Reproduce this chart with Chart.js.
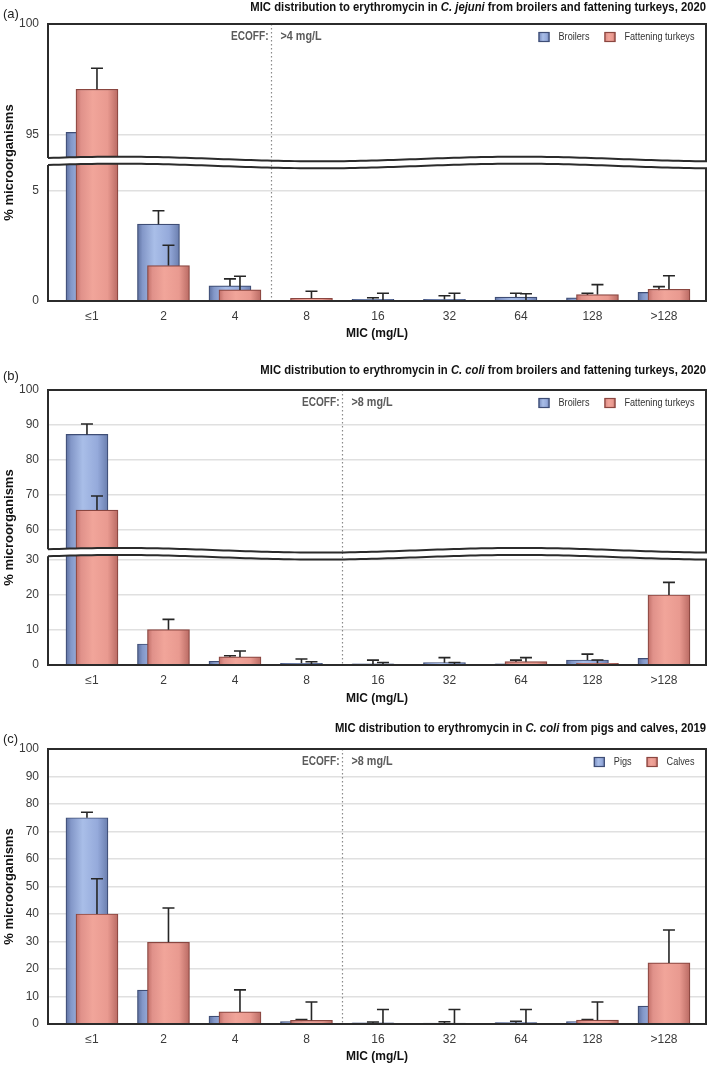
<!DOCTYPE html>
<html><head><meta charset="utf-8">
<script src="https://cdn.jsdelivr.net/npm/chart.js@4.4.0/dist/chart.umd.min.js"></script>
<style>
html,body{margin:0;padding:0;background:#fff;}
#wrap{position:relative;width:709px;height:1065px;overflow:hidden;}
canvas{position:absolute;left:0;}
</style></head><body>
<div id="wrap">
<canvas id="ca" style="top:0px" width="709" height="345"></canvas>
<canvas id="cb" style="top:345px" width="709" height="363"></canvas>
<canvas id="cc" style="top:708px" width="709" height="357"></canvas>
</div>
<script>
// ---------- data ----------
const micLabels = ['≤1','2','4','8','16','32','64','128','>128'];

// (a) C. jejuni, broilers & fattening turkeys 2020
const aTitle = ['MIC distribution to erythromycin in ', 'C. jejuni', ' from broilers and fattening turkeys, 2020'];
const aSeries = ['Broilers', 'Fattening turkeys'];
const aBroilers   = [95.1, 3.47, 0.68, 0,    0.07, 0.07, 0.18, 0.14, 0.39];
const aBroilersHi = [96.0, 4.08, 1.0,  null, 0.15, 0.24, 0.35, 0.35, 0.65];
const aTurkeys    = [97.05, 1.6, 0.5,  0.12, 0.03, 0.02, 0.02, 0.29, 0.53];
const aTurkeysHi  = [98.0, 2.52, 1.12, 0.44, 0.35, 0.35, 0.33, 0.74, 1.14];
const aTicks = [0, 5, 95, 100];
const aEcoff = 'ECOFF:', aEcoffVal = '>4 mg/L';

// (b) C. coli, broilers & fattening turkeys 2020
const bTitle = ['MIC distribution to erythromycin in ', 'C. coli', ' from broilers and fattening turkeys, 2020'];
const bSeries = ['Broilers', 'Fattening turkeys'];
const bBroilers   = [87.3, 6.0, 1.05, 0.48, 0.3, 0.67, 0.37, 1.43, 1.9];
const bBroilersHi = [90.3, 7.5, 2.65, 1.7,  1.4, 2.1,  1.4,  3.1,  3.5];
const bTurkeys    = [65.7, 10.1, 2.3, 0.2,  0.2, 0.1,  0.95, 0.48, 20.0];
const bTurkeysHi  = [69.7, 13.05, 4.0, 0.95, 0.7, 0.7, 2.1,  1.43, 23.6];
const bTicks = [0, 5, 10, 15, 20, 25, 30, 55, 60, 65, 70, 75, 80, 85, 90, 95, 100];
const bEcoff = 'ECOFF:', bEcoffVal = '>8 mg/L';

// (c) C. coli, pigs & calves 2019
const cTitle = ['MIC distribution to erythromycin in ', 'C. coli', ' from pigs and calves, 2019'];
const cSeries = ['Pigs', 'Calves'];
const cPigs     = [75.0, 12.3, 2.9, 0.85, 0.4,  0.3, 0.5, 0.9, 6.5];
const cPigsHi   = [77.0, 14.0, 3.8, 1.6,  0.75, 0.8, 1.0, 1.6, 8.0];
const cCalves   = [40.0, 29.7, 4.4, 1.35, 0,    0,   0,   1.4, 22.2];
const cCalvesHi = [52.8, 42.2, 12.4, 8.0, 5.3,  5.3, 5.3, 8.0, 34.2];
const cTicks = [0, 10, 20, 30, 40, 50, 60, 70, 80, 90, 100];
const cEcoff = 'ECOFF:', cEcoffVal = '>8 mg/L';

const yTitle = '% microorganisms';
const xTitle = 'MIC (mg/L)';

// ---------- styling ----------
const FN = '"Liberation Sans Narrow", "Arial Narrow", "Liberation Sans", Arial, sans-serif';
const FW = '"Liberation Sans", Arial, sans-serif';
const BLUE = {stops: [[0,'#5d70a0'],[0.12,'#8397c8'],[0.4,'#a9bee8'],[0.75,'#95aadb'],[1,'#6a7eae']], border: '#3e4d75', flat: '#9fb3e0'};
const RED  = {stops: [[0,'#c06f68'],[0.12,'#e0918a'],[0.4,'#f1a59a'],[0.75,'#e99a90'],[1,'#b96a63']], border: '#8a4640', flat: '#eb9c92'};
const BAR_OFF = 0.07;

// ---------- broken y scale ----------
class BrokenScale extends Chart.LinearScale {
  _brk() { const o = this.options; return {lo: o.lowMax, up: o.upMin, gap: o.gapPx}; }
  _ppu() { const b = this._brk(); return (this.bottom - this.top - b.gap) / ((b.lo - this.min) + (this.max - b.up)); }
  getPixelForValue(v) {
    if (v === null || v === undefined || isNaN(v)) return NaN;
    const b = this._brk(), p = this._ppu();
    if (v <= b.lo) return this.bottom - (v - this.min) * p;
    if (v >= b.up) return this.top + (this.max - v) * p;
    const yl = this.bottom - (b.lo - this.min) * p, yu = this.top + (this.max - b.up) * p;
    return yl + (v - b.lo) / (b.up - b.lo) * (yu - yl);
  }
  getValueForPixel(px) {
    const b = this._brk(), p = this._ppu();
    const yl = this.bottom - (b.lo - this.min) * p, yu = this.top + (this.max - b.up) * p;
    if (px >= yl) return this.min + (this.bottom - px) / p;
    if (px <= yu) return this.max - (px - this.top) / p;
    return b.lo + (yl - px) / (yl - yu) * (b.up - b.lo);
  }
}
BrokenScale.id = 'broken';
BrokenScale.defaults = Chart.LinearScale.defaults;
Chart.register(BrokenScale);

function barGrad(c, pal) {
  const chart = c.chart;
  if (!chart.chartArea || !c.raw) return pal.flat;
  const x = chart.scales.x.getPixelForValue(c.raw.x);
  const g = chart.ctx.createLinearGradient(x - 21, 0, x + 21, 0);
  pal.stops.forEach(s => g.addColorStop(s[0], s[1]));
  return g;
}

function waveOff(x, ca) {
  const u = (x - ca.left) / (ca.right - ca.left);
  return -2.3 * Math.cos(2 * Math.PI * (u - 0.109) / 0.608);
}

function drawSwatch(ctx, x, y, w, h, pal) {
  const g = ctx.createLinearGradient(x, 0, x + w, 0);
  pal.stops.forEach(s => g.addColorStop(s[0], s[1]));
  ctx.fillStyle = g; ctx.fillRect(x, y, w, h);
  ctx.strokeStyle = pal.border; ctx.lineWidth = 1.2; ctx.strokeRect(x + 0.5, y + 0.5, w - 1, h - 1);
}

// draw text compressed horizontally by sx; returns drawn width
function textW(ctx, t, sx) { return ctx.measureText(t).width * sx; }
function sText(ctx, t, x, y, align, sx) {
  ctx.save(); ctx.translate(x, y); ctx.scale(sx, 1); ctx.textAlign = align; ctx.fillText(t, 0, 0); ctx.restore();
}

function panelPlugin(p) {
  return {
    id: 'panel' + p.key,
    afterDatasetDraw(chart, args) {
      const ctx = chart.ctx, ys = chart.scales.y;
      const hi = args.meta.index === 0 ? p.hiA : p.hiB;
      ctx.save();
      ctx.strokeStyle = '#262626'; ctx.lineWidth = 1.6; ctx.lineCap = 'butt';
      args.meta.data.forEach((bar, i) => {
        const h = hi[i]; if (h === null || h === undefined) return;
        const y1 = ys.getPixelForValue(h);
        ctx.beginPath();
        ctx.moveTo(bar.x, bar.y); ctx.lineTo(bar.x, y1);
        ctx.moveTo(bar.x - 6, y1); ctx.lineTo(bar.x + 6, y1);
        ctx.stroke();
      });
      ctx.restore();
    },
    afterDatasetsDraw(chart) {
      const ctx = chart.ctx, ca = chart.chartArea, ys = chart.scales.y, xs = chart.scales.x;
      ctx.save();
      const ex = Math.round(xs.getPixelForValue(p.ecoffAt)) + 0.5;
      ctx.strokeStyle = '#8a8a8a'; ctx.lineWidth = 1.2; ctx.setLineDash([1.5, 2.5]);
      ctx.beginPath(); ctx.moveTo(ex, ca.top); ctx.lineTo(ex, ca.bottom); ctx.stroke();
      ctx.setLineDash([]);
      ctx.strokeStyle = '#2b2b2b'; ctx.lineWidth = 2; ctx.lineJoin = 'miter';
      if (p.broken) {
        const mid = (ys.getPixelForValue(p.broken.lowMax) + ys.getPixelForValue(p.broken.upMin)) / 2;
        const up = x => mid - 3.5 + waveOff(x, ca);
        const lo = x => mid + 3.5 + waveOff(x, ca);
        const N = 120, L = ca.left, R = ca.right;
        ctx.fillStyle = '#fff';
        ctx.beginPath();
        for (let i = 0; i <= N; i++) { const x = L + (R - L) * i / N; i ? ctx.lineTo(x, up(x)) : ctx.moveTo(x, up(x)); }
        for (let i = N; i >= 0; i--) { const x = L + (R - L) * i / N; ctx.lineTo(x, lo(x)); }
        ctx.closePath(); ctx.fill();
        ctx.strokeStyle = '#8a8a8a'; ctx.lineWidth = 1.2; ctx.setLineDash([1.5, 2.5]);
        ctx.beginPath(); ctx.moveTo(ex, up(ex)); ctx.lineTo(ex, lo(ex)); ctx.stroke();
        ctx.setLineDash([]);
        ctx.strokeStyle = '#2b2b2b'; ctx.lineWidth = 2;
        ctx.beginPath();
        ctx.moveTo(L, up(L)); ctx.lineTo(L, ca.top); ctx.lineTo(R, ca.top); ctx.lineTo(R, up(R));
        for (let i = N; i >= 0; i--) { const x = L + (R - L) * i / N; ctx.lineTo(x, up(x)); }
        ctx.stroke();
        ctx.beginPath();
        ctx.moveTo(L, lo(L)); ctx.lineTo(L, ca.bottom); ctx.lineTo(R, ca.bottom); ctx.lineTo(R, lo(R));
        for (let i = N; i >= 0; i--) { const x = L + (R - L) * i / N; ctx.lineTo(x, lo(x)); }
        ctx.stroke();
      } else {
        ctx.strokeRect(ca.left, ca.top, ca.right - ca.left, ca.bottom - ca.top);
      }
      // ECOFF text
      const ty = ca.top + 13;
      ctx.font = 'bold 12px ' + FN; ctx.fillStyle = '#5a5a5a'; ctx.textBaseline = 'middle';
      sText(ctx, p.ecoff, ex - 3, ty, 'right', 0.84);
      sText(ctx, p.ecoffVal, ex + 9, ty, 'left', 0.9);
      // legend
      ctx.font = '11px ' + FN;
      const SX = 0.83;
      let x = ca.right - 11.5;
      const items = [[p.series[1], RED], [p.series[0], BLUE]];
      items.forEach(([t, pal]) => {
        const w = textW(ctx, t, SX);
        x -= w; ctx.fillStyle = '#333'; sText(ctx, t, x, ty, 'left', SX);
        x -= 9 + 11; drawSwatch(ctx, x, ty - 5, 11, 10, pal);
        x -= 15;
      });
      ctx.restore();
    },
    afterDraw(chart) {
      const ctx = chart.ctx, ca = chart.chartArea;
      ctx.save();
      ctx.textBaseline = 'middle'; ctx.fillStyle = '#111';
      const SX = 0.94;
      const fonts = ['bold 12px ' + FN, 'italic bold 12px ' + FN, 'bold 12px ' + FN];
      let total = 0;
      const ws = p.title.map((t, i) => { ctx.font = fonts[i]; const w = textW(ctx, t, SX); total += w; return w; });
      let x = ca.right - total;
      p.title.forEach((t, i) => { ctx.font = fonts[i]; sText(ctx, t, x, p.titleY, 'left', SX); x += ws[i]; });
      ctx.font = '13px ' + FW; ctx.fillStyle = '#222'; ctx.textAlign = 'left';
      ctx.fillText(p.letter, 3, p.letterY);
      ctx.restore();
    }
  };
}

function makeChart(id, p) {
  const mk = (label, vals, pal, side, order) => ({
    label, order,
    data: vals.map((v, i) => ({x: i + side * BAR_OFF, y: v})),
    backgroundColor: c => barGrad(c, pal),
    borderColor: pal.border, borderWidth: 1.2,
    barThickness: 42, grouped: false
  });
  const yScale = {
    type: p.broken ? 'broken' : 'linear',
    min: 0, max: 100,
    afterBuildTicks: s => { s.ticks = p.ticks.map(v => ({value: v})); },
    afterFit: s => { s.width = 48; },
    grid: {color: '#e0e0e0', lineWidth: 1.5, drawTicks: false},
    border: {display: false},
    ticks: {padding: 9, color: '#3a3a3a', font: {family: FN, size: 12},
      callback: v => (p.labelEvery && v % p.labelEvery !== 0) ? '' : String(v)},
    title: {display: true, text: yTitle, color: '#111', font: {family: FW, size: 13, weight: 'bold'}, padding: {top: 2, bottom: 1}}
  };
  if (p.broken) { yScale.lowMax = p.broken.lowMax; yScale.upMin = p.broken.upMin; yScale.gapPx = p.broken.gap; }
  return new Chart(document.getElementById(id), {
    type: 'bar',
    data: {datasets: [mk(p.series[0], p.a, BLUE, -1, 2), mk(p.series[1], p.b, RED, 1, 1)]},
    options: {
      responsive: false, animation: false,
      layout: {padding: {left: 0, right: 3, top: p.padTop, bottom: 0}},
      plugins: {legend: {display: false}, tooltip: {enabled: false}, title: {display: false}},
      scales: {
        x: {
          type: 'linear', min: -0.615, max: 8.588, offset: false,
          afterBuildTicks: s => { s.ticks = micLabels.map((_, i) => ({value: i})); },
          afterFit: s => { s.height = p.xH; },
          grid: {display: false, drawTicks: false}, border: {display: false},
          ticks: {autoSkip: false, maxRotation: 0, padding: 8, color: '#3a3a3a', font: {family: FN, size: 12},
            callback: v => micLabels[Math.round(v)]},
          title: {display: true, text: xTitle, color: '#111', font: {family: FN, size: 12, weight: 'bold'}, padding: {top: 0, bottom: p.xTitlePad}}
        },
        y: yScale
      }
    },
    plugins: [panelPlugin(p)]
  });
}

makeChart('ca', {key: 'a', a: aBroilers, b: aTurkeys, hiA: aBroilersHi, hiB: aTurkeysHi, series: aSeries,
  title: aTitle, titleY: 8, letter: '(a)', letterY: 14, ticks: aTicks, labelEvery: 0,
  broken: {lowMax: 6.1, upMin: 93.9, gap: 7}, ecoffAt: 2.5, ecoff: aEcoff, ecoffVal: aEcoffVal,
  padTop: 24, xH: 44, xTitlePad: 4});
makeChart('cb', {key: 'b', a: bBroilers, b: bTurkeys, hiA: bBroilersHi, hiB: bTurkeysHi, series: bSeries,
  title: bTitle, titleY: 26, letter: '(b)', letterY: 31, ticks: bTicks, labelEvery: 10,
  broken: {lowMax: 31, upMin: 54, gap: 5.5}, ecoffAt: 3.5, ecoff: bEcoff, ecoffVal: bEcoffVal,
  padTop: 45, xH: 43, xTitlePad: 2});
makeChart('cc', {key: 'c', a: cPigs, b: cCalves, hiA: cPigsHi, hiB: cCalvesHi, series: cSeries,
  title: cTitle, titleY: 21, letter: '(c)', letterY: 31, ticks: cTicks, labelEvery: 0,
  broken: null, ecoffAt: 3.5, ecoff: cEcoff, ecoffVal: cEcoffVal,
  padTop: 41, xH: 41, xTitlePad: 1});
</script>
</body></html>
